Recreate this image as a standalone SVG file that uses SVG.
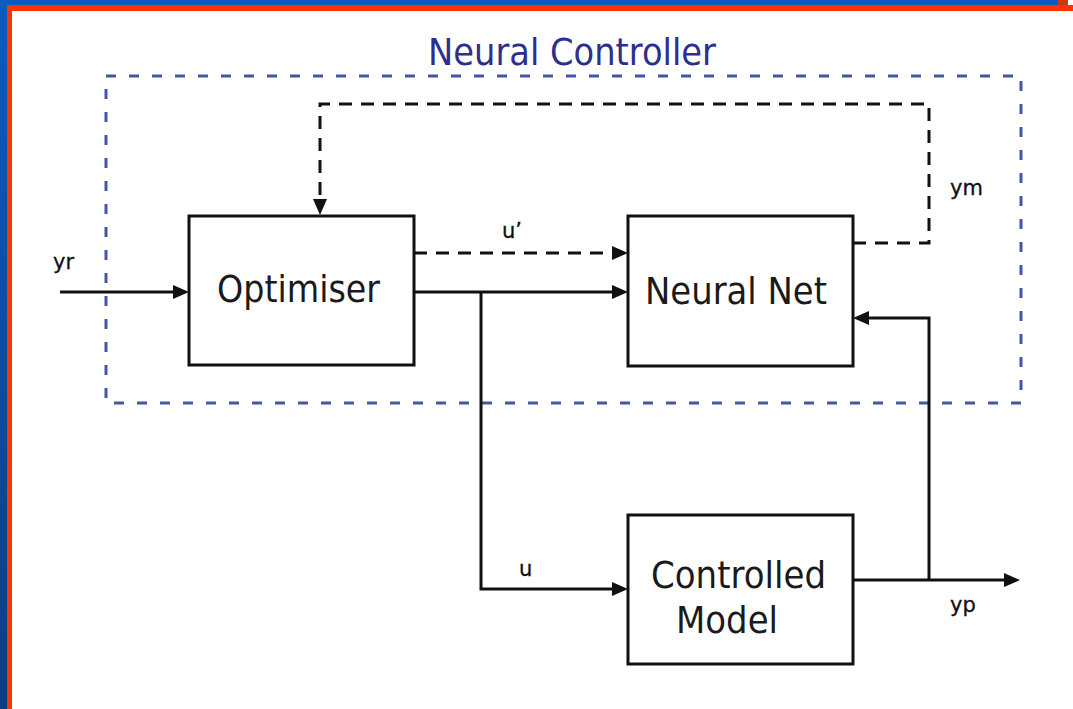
<svg xmlns="http://www.w3.org/2000/svg" width="1073" height="709" viewBox="0 0 1073 709">
  <style>
    .box { fill: #ffffff; stroke: #111111; stroke-width: 3; }
    .wire { fill: none; stroke: #111111; stroke-width: 3; }
    .dash { stroke-dasharray: 13 9; }
    .big { font-family: "DejaVu Sans", Verdana, sans-serif; font-size: 38px; fill: #1a1a1a; }
    .lbl { font-family: "DejaVu Sans", Verdana, sans-serif; font-size: 21px; fill: #111111; stroke: #111111; stroke-width: 0.3; }
    .title { font-family: "DejaVu Sans", Verdana, sans-serif; font-size: 38px; fill: #2e2e8c; }
  </style>
  <defs>
    <marker id="arrow" markerUnits="userSpaceOnUse" markerWidth="16" markerHeight="14" refX="2" refY="7" orient="auto">
      <path d="M0,0 L16,7 L0,14 Z" fill="#111111" stroke="none"/>
    </marker>
    <linearGradient id="sideBlue" x1="0" y1="0" x2="0" y2="1">
      <stop offset="0" stop-color="#0a5cc0"/>
      <stop offset="1" stop-color="#0a3f80"/>
    </linearGradient>
  </defs>

  <!-- page background and frame bands -->
  <rect width="1073" height="709" fill="#ffffff"/>
  <rect x="0" y="0" width="1058" height="6" fill="#0a5cc0"/>
  <rect x="1058" y="0" width="10" height="6" fill="#c83a10"/>
  <rect x="0" y="0" width="7" height="709" fill="url(#sideBlue)"/>
  <rect x="7" y="5" width="1066" height="6" fill="#ff3300"/>
  <rect x="7" y="5" width="5" height="704" fill="#ff3300"/>

  <!-- controller boundary -->
  <g id="neural-controller">
    <rect x="106" y="76" width="915" height="327" fill="none" stroke="#4556a6" stroke-width="3" stroke-dasharray="10 13"/>
    <text class="title" x="428" y="65" textLength="288" lengthAdjust="spacingAndGlyphs">Neural Controller</text>
  </g>

  <!-- signal lines -->
  <g id="connectors">
    <path class="wire" d="M60,292 H175" marker-end="url(#arrow)"/>
    <path class="wire dash" d="M414,253 H614" marker-end="url(#arrow)"/>
    <path class="wire" d="M414,292 H614" marker-end="url(#arrow)"/>
    <path class="wire" d="M481,292 V589 H614" marker-end="url(#arrow)"/>
    <path class="wire" d="M853,580 H1006" marker-end="url(#arrow)"/>
    <path class="wire" d="M929,580 V318 H867" marker-end="url(#arrow)"/>
    <path class="wire dash" d="M853,243 H929 V104 H320 V201" marker-end="url(#arrow)"/>
    <text class="lbl" x="53" y="269">yr</text>
    <text class="lbl" x="502" y="238">u’</text>
    <text class="lbl" x="950" y="195">ym</text>
    <text class="lbl" x="519" y="576">u</text>
    <text class="lbl" x="950" y="612">yp</text>
  </g>

  <g id="optimiser">
    <rect class="box" x="189" y="216" width="225" height="149"/>
    <text class="big" x="217" y="302" textLength="163" lengthAdjust="spacingAndGlyphs">Optimiser</text>
  </g>

  <g id="neural-net">
    <rect class="box" x="628" y="216" width="225" height="150"/>
    <text class="big" x="645" y="304" textLength="182" lengthAdjust="spacingAndGlyphs">Neural Net</text>
  </g>

  <g id="controlled-model">
    <rect class="box" x="628" y="515" width="225" height="149"/>
    <text class="big" x="651" y="588" textLength="175" lengthAdjust="spacingAndGlyphs">Controlled</text>
    <text class="big" x="676" y="633" textLength="102" lengthAdjust="spacingAndGlyphs">Model</text>
  </g>
</svg>
